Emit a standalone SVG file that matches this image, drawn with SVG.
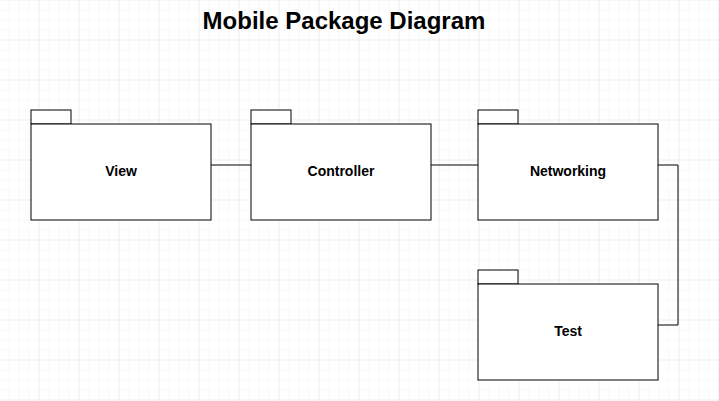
<svg xmlns="http://www.w3.org/2000/svg" width="719" height="401" viewBox="0 0 719 401">
  <defs>
    <pattern id="minor" width="10" height="10" patternUnits="userSpaceOnUse" x="-0.5" y="0.5">
      <path d="M10 0 V10 M0 10 H10" fill="none" stroke="#f2f2f2" stroke-width="1"/>
    </pattern>
    <pattern id="major" width="40" height="40" patternUnits="userSpaceOnUse" x="-0.5" y="0.5">
      <path d="M40 0 V40 M0 40 H40" fill="none" stroke="#e5e5e5" stroke-width="1"/>
    </pattern>
    <style>
      .pkg rect { fill: #ffffff; stroke: #000000; stroke-width: 1; }
      .lbl { font-family: "Liberation Sans", Arial, sans-serif; font-size: 14px; font-weight: bold; fill: #000000; text-anchor: middle; }
      .conn { fill: none; stroke: #000000; stroke-width: 1; }
      .title { font-family: "Liberation Sans", Arial, sans-serif; font-size: 24px; font-weight: bold; fill: #000000; text-anchor: middle; }
    </style>
  </defs>
  <rect width="719" height="401" fill="#ffffff"/>
  <rect width="719" height="401" fill="url(#minor)"/>
  <rect width="719" height="401" fill="url(#major)"/>

  <text class="title" x="344" y="29">Mobile Package Diagram</text>

  <g id="connectors">
    <path class="conn" d="M211 165 H251"/>
    <path class="conn" d="M431 165 H478"/>
    <path class="conn" d="M658 165 H678 V325 H658"/>
  </g>

  <g id="view" class="pkg">
    <rect x="31" y="110" width="40" height="14"/>
    <rect x="31" y="124" width="180" height="96"/>
    <text class="lbl" x="121" y="176">View</text>
  </g>
  <g id="controller" class="pkg">
    <rect x="251" y="110" width="40" height="14"/>
    <rect x="251" y="124" width="180" height="96"/>
    <text class="lbl" x="341" y="176">Controller</text>
  </g>
  <g id="networking" class="pkg">
    <rect x="478" y="110" width="40" height="14"/>
    <rect x="478" y="124" width="180" height="96"/>
    <text class="lbl" x="568" y="176">Networking</text>
  </g>
  <g id="test" class="pkg">
    <rect x="478" y="270" width="40" height="14"/>
    <rect x="478" y="284" width="180" height="96"/>
    <text class="lbl" x="568" y="336">Test</text>
  </g>
</svg>
